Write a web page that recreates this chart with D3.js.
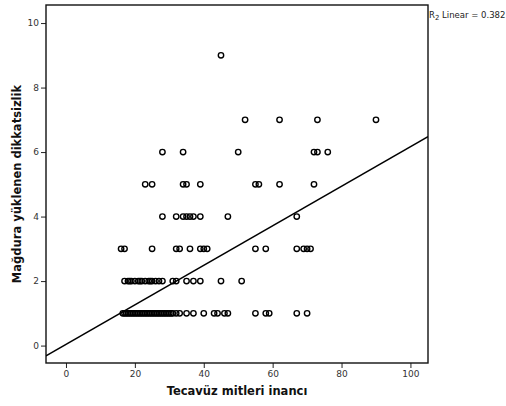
<!DOCTYPE html>
<html>
<head>
<meta charset="utf-8">
<script src="https://cdn.jsdelivr.net/npm/d3@7"></script>
<style>
  html, body { margin: 0; padding: 0; background: #fff; }
  svg { display: block; }
</style>
</head>
<body>
<svg id="chart" width="506" height="406"></svg>
<script>
// ---- data ----
const xTickValues = [0, 20, 40, 60, 80, 100];
const yTickValues = [0, 2, 4, 6, 8, 10];
const xTitle = "Tecavüz mitleri inancı";
const yTitle = "Mağdura yüklenen dikkatsizlik";
const fitLabel = "Linear = 0.382";
const fitIntercept = 0.036;
const fitSlope = 0.0613;

const row1x = [16.5,17,17.5,18,18.5,19,19.5,20,20.5,21,21.5,22,22.5,23,23.5,24,24.5,25,25.5,26,26.5,27,27.5,28,28.5,29,29.5,30,30.5,31,
               32,33,35,37,40,43,44,46,47,55,58,59,67,70];
const row2x = [17,18,18.5,19,20,21,21.5,22,23,24,24.5,25,26,27,28,31,32,35,37,39,45,51];
const row3x = [16,17,25,32,33,36,39,40,41,55,58,67,69,70,71];
const row4x = [28,32,34,35,36,37,39,47,67];
const row5x = [23,25,34,35,39,55,56,62,72];
const row6x = [28,34,50,72,73,76];
const row7x = [52,62,73,90];
const row9x = [45];

const rows = [[1,row1x],[2,row2x],[3,row3x],[4,row4x],[5,row5x],[6,row6x],[7,row7x],[9,row9x]];
const points = [];
rows.forEach(([yv, xs]) => xs.forEach(xv => points.push({x: xv, y: yv})));

// ---- layout ----
const svg = d3.select("#chart");
const L = 46, R = 428, T = 5, B = 363;
const x = d3.scaleLinear().domain([-5.8, 105.1]).range([L, R]);
const y = d3.scaleLinear().domain([-0.54, 10.56]).range([B, T]);

const font = "'DejaVu Sans', sans-serif";

// axes
const xAxis = d3.axisBottom(x).tickValues(xTickValues).tickSize(5).tickPadding(3);
const yAxis = d3.axisLeft(y).tickValues(yTickValues).tickSize(5).tickPadding(2);

const gx = svg.append("g").attr("transform", `translate(0,${B})`).call(xAxis);
const gy = svg.append("g").attr("transform", `translate(${L},0)`).call(yAxis);
[gx, gy].forEach(g => {
  g.select(".domain").remove();
  g.selectAll(".tick line").attr("stroke", "#222").attr("stroke-width", 1);
  g.selectAll(".tick text").attr("fill", "#333").style("font-family", font).style("font-size", "9px");
});

// frame
svg.append("rect")
  .attr("x", L).attr("y", T).attr("width", R - L).attr("height", B - T)
  .attr("fill", "none").attr("stroke", "#111").attr("stroke-width", 1.4);

// clip for line
svg.append("clipPath").attr("id", "clip")
  .append("rect").attr("x", L).attr("y", T).attr("width", R - L).attr("height", B - T);

// points
svg.append("g").selectAll("circle").data(points).join("circle")
  .attr("cx", d => x(d.x)).attr("cy", d => y(d.y)).attr("r", 2.7)
  .attr("fill", "none").attr("stroke", "#000").attr("stroke-width", 1.4);

// fit line
const [x0, x1] = x.domain();
svg.append("line")
  .attr("clip-path", "url(#clip)")
  .attr("x1", x(x0)).attr("y1", y(fitIntercept + fitSlope * x0))
  .attr("x2", x(x1)).attr("y2", y(fitIntercept + fitSlope * x1))
  .attr("stroke", "#000").attr("stroke-width", 1.5);

// titles
svg.append("text")
  .attr("x", (L + R) / 2).attr("y", 395)
  .attr("text-anchor", "middle")
  .style("font-family", font).style("font-size", "11.5px").style("font-weight", "bold")
  .attr("fill", "#111").text(xTitle);

svg.append("text")
  .attr("transform", `translate(21,${(T + B) / 2}) rotate(-90)`)
  .attr("text-anchor", "middle")
  .style("font-family", font).style("font-size", "11.5px").style("font-weight", "bold")
  .attr("fill", "#111").text(yTitle);

// fit label
const lab = svg.append("text")
  .attr("x", R + 1).attr("y", 18)
  .style("font-family", font).style("font-size", "8.5px").attr("fill", "#222");
lab.append("tspan").text("R");
lab.append("tspan").attr("dy", 2).style("font-size", "7px").text("2");
lab.append("tspan").attr("dy", -2).text(" " + fitLabel);
</script>
</body>
</html>
